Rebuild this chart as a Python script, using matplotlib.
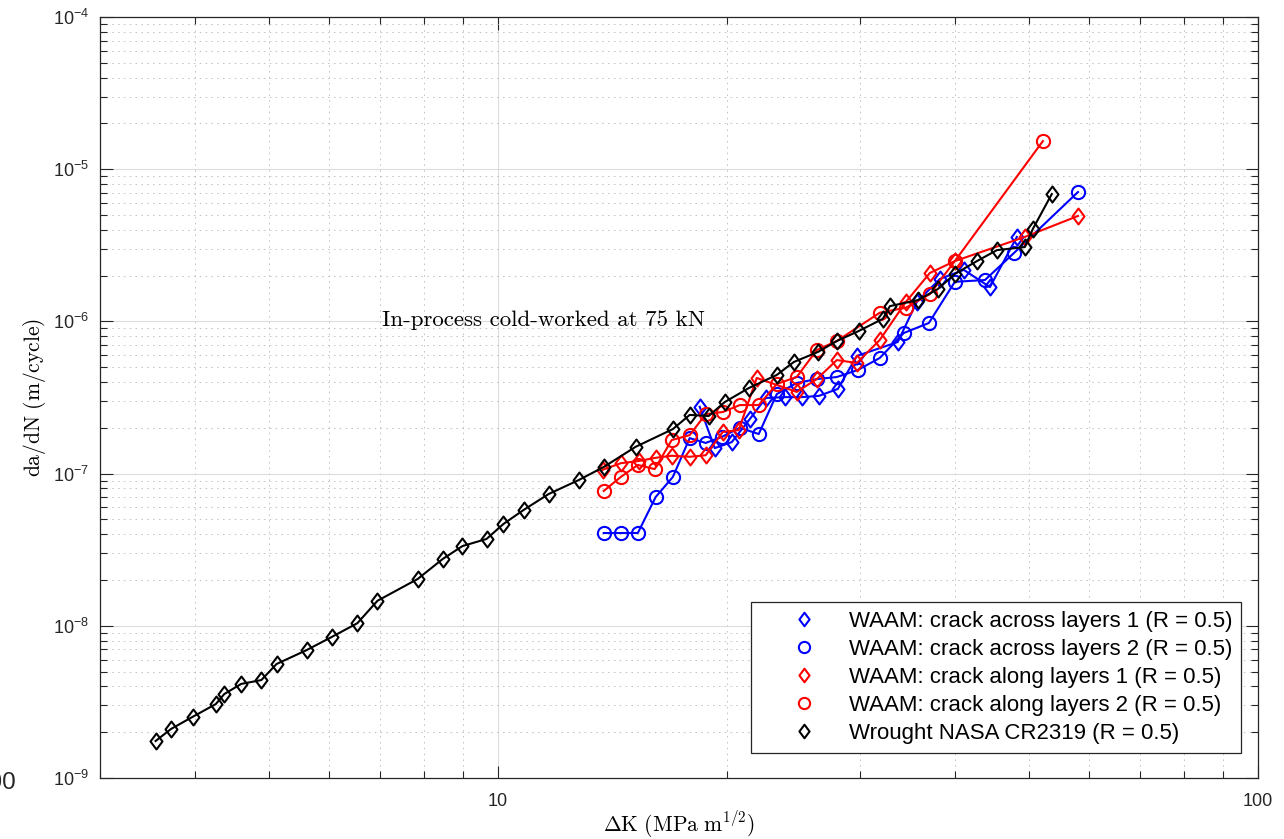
import matplotlib
matplotlib.use("Agg")
import matplotlib.pyplot as plt
from matplotlib.path import Path
from matplotlib.lines import Line2D
from matplotlib.ticker import FixedLocator, FixedFormatter, LogLocator, NullFormatter

# ---------------- data ----------------
# Wrought NASA CR2319 (R = 0.5)
wr_dk = [3.55, 3.72, 3.97, 4.26, 4.37, 4.60, 4.89, 5.12, 5.61, 6.05, 6.54, 6.95, 7.85,
         8.47, 8.99, 9.67, 10.18, 10.82, 11.67, 12.79, 13.79, 15.19, 17.00, 17.89, 18.95,
         19.89, 21.40, 23.29, 24.52, 26.37, 27.93, 29.85, 32.11, 32.80, 35.70, 37.92,
         39.93, 42.69, 45.36, 49.36, 50.57, 53.56]
wr_dadn = [1.75e-9, 2.10e-9, 2.52e-9, 3.06e-9, 3.56e-9, 4.15e-9, 4.40e-9, 5.61e-9, 6.93e-9,
           8.44e-9, 1.04e-8, 1.46e-8, 2.03e-8, 2.75e-8, 3.34e-8, 3.72e-8, 4.67e-8, 5.77e-8,
           7.34e-8, 9.08e-8, 1.105e-7, 1.50e-7, 1.96e-7, 2.43e-7, 2.39e-7, 2.95e-7, 3.65e-7,
           4.45e-7, 5.41e-7, 6.29e-7, 7.43e-7, 8.65e-7, 1.04e-6, 1.26e-6, 1.38e-6, 1.63e-6,
           2.05e-6, 2.49e-6, 2.94e-6, 3.08e-6, 4.05e-6, 6.87e-6]

# WAAM: crack across layers 1
ac1_dk = [18.44, 19.30, 20.32, 21.46, 22.53, 23.86, 25.12, 26.45, 28.02, 29.68, 33.59,
          35.58, 38.16, 41.03, 44.41, 48.18]
ac1_dadn = [2.75e-7, 1.47e-7, 1.61e-7, 2.28e-7, 3.14e-7, 3.18e-7, 3.18e-7, 3.24e-7, 3.60e-7,
            5.93e-7, 7.32e-7, 1.34e-6, 1.90e-6, 2.18e-6, 1.68e-6, 3.59e-6]

# WAAM: crack across layers 2
ac2_dk = [13.79, 14.52, 15.29, 16.14, 17.00, 17.89, 18.78, 19.71, 20.82, 22.05, 23.29,
          24.74, 26.29, 27.93, 29.77, 31.81, 34.21, 36.91, 39.93, 43.74, 47.74, 57.98]
ac2_dadn = [4.07e-8, 4.07e-8, 4.07e-8, 7.02e-8, 9.50e-8, 1.71e-7, 1.59e-7, 1.74e-7, 2.00e-7,
            1.82e-7, 3.33e-7, 3.94e-7, 4.18e-7, 4.31e-7, 4.80e-7, 5.75e-7, 8.39e-7, 9.76e-7,
            1.82e-6, 1.87e-6, 2.81e-6, 7.08e-6]

# WAAM: crack along layers 1
al1_dk = [13.75, 14.52, 15.33, 16.14, 16.94, 17.89, 18.78, 19.78, 20.75, 21.92, 24.74,
          26.29, 27.93, 29.68, 31.81, 34.42, 37.02, 39.93, 49.36, 57.98]
al1_dadn = [1.06e-7, 1.17e-7, 1.21e-7, 1.27e-7, 1.31e-7, 1.29e-7, 1.32e-7, 1.88e-7, 1.93e-7,
            4.25e-7, 3.44e-7, 4.18e-7, 5.57e-7, 5.33e-7, 7.55e-7, 1.34e-6, 2.08e-6, 2.49e-6,
            3.59e-6, 4.93e-6]

# WAAM: crack along layers 2
al2_dk = [13.79, 14.52, 15.29, 16.09, 16.94, 17.89, 18.78, 19.78, 20.82, 22.05, 23.29,
          24.74, 26.29, 27.93, 31.81, 34.42, 37.02, 39.93, 52.13]
al2_dadn = [7.69e-8, 9.50e-8, 1.14e-7, 1.07e-7, 1.66e-7, 1.79e-7, 2.46e-7, 2.54e-7, 2.82e-7,
            2.82e-7, 3.88e-7, 4.31e-7, 6.49e-7, 7.43e-7, 1.14e-6, 1.23e-6, 1.51e-6, 2.49e-6,
            1.53e-5]

series_labels = ["WAAM: crack across layers 1 (R = 0.5)",
                 "WAAM: crack across layers 2 (R = 0.5)",
                 "WAAM: crack along layers 1 (R = 0.5)",
                 "WAAM: crack along layers 2 (R = 0.5)",
                 "Wrought NASA CR2319 (R = 0.5)"]

x_ticks = [10, 100]
x_ticklabels = ["10", "100"]
y_ticks = [1e-9, 1e-8, 1e-7, 1e-6, 1e-5, 1e-4]
y_ticklabels = [r"$\mathdefault{10^{-9}}$", r"$\mathdefault{10^{-8}}$", r"$\mathdefault{10^{-7}}$",
                r"$\mathdefault{10^{-6}}$", r"$\mathdefault{10^{-5}}$", r"$\mathdefault{10^{-4}}$"]

annotation = "In-process cold-worked at 75 kN"
xlabel = r"$\Delta\mathrm{K}\ (\mathrm{MPa\ m}^{1/2})$"
ylabel = r"$\mathrm{da/dN\ (m/cycle)}$"

# ---------------- style ----------------
plt.rcParams["font.family"] = ["Liberation Sans", "DejaVu Sans"]
plt.rcParams["mathtext.fontset"] = "cm"

diamond = Path([(0, 1), (0.75, 0), (0, -1), (-0.75, 0), (0, 1)],
               [Path.MOVETO, Path.LINETO, Path.LINETO, Path.LINETO, Path.CLOSEPOLY])

fig = plt.figure(figsize=(12.84, 8.39), dpi=100)
ax = fig.add_axes([100 / 1284, 1 - 778 / 839, 1158 / 1284, 761 / 839])

lw = 1.5
mew = 1.5
series = [
    (ac1_dk, ac1_dadn, "blue", diamond, 11.5),
    (ac2_dk, ac2_dadn, "blue", "o", 9.5),
    (al1_dk, al1_dadn, "red", diamond, 11.5),
    (al2_dk, al2_dadn, "red", "o", 9.5),
    (wr_dk, wr_dadn, "black", diamond, 11.5),
]
handles = []
for (xs, ys, c, m, ms), lab in zip(series, series_labels):
    ax.plot(xs, ys, color=c, lw=lw, marker=m, ms=ms, mfc="none", mec=c, mew=mew, zorder=3)
    handles.append(Line2D([], [], color=c, ls="none", marker=m, ms=ms * 0.85,
                          mfc="none", mec=c, mew=mew))

ax.set_xscale("log")
ax.set_yscale("log")
ax.set_xlim(3, 100)
ax.set_ylim(1e-9, 1e-4)

ax.xaxis.set_major_locator(FixedLocator(x_ticks))
ax.xaxis.set_major_formatter(FixedFormatter(x_ticklabels))
ax.xaxis.set_minor_locator(LogLocator(base=10, subs=range(2, 10), numticks=50))
ax.xaxis.set_minor_formatter(NullFormatter())
ax.yaxis.set_major_locator(FixedLocator(y_ticks))
ax.yaxis.set_major_formatter(FixedFormatter(y_ticklabels))
ax.yaxis.set_minor_locator(LogLocator(base=10, subs=range(2, 10), numticks=50))
ax.yaxis.set_minor_formatter(NullFormatter())

ax.tick_params(which="both", direction="in", top=True, right=True, color="#262626",
               width=0.8, labelsize=13, labelcolor="#262626")
ax.tick_params(which="major", length=9)
ax.tick_params(which="minor", length=5)
ax.tick_params(axis="x", which="major", pad=11)
ax.tick_params(axis="y", which="major", pad=8)

for s in ax.spines.values():
    s.set_color("#262626")
    s.set_linewidth(0.9)

ax.grid(which="major", color="#dcdcdc", lw=0.8, ls="-", zorder=0)
ax.grid(which="minor", color="#bdbdbd", lw=0.6, ls=(0, (2, 5)), zorder=0)
ax.set_axisbelow(True)

ax.set_xlabel(xlabel, fontsize=15.5, math_fontfamily="cm")
ax.set_ylabel(ylabel, fontsize=15.5, math_fontfamily="cm")
ax.xaxis.set_label_coords(0.5, -0.042)
ax.yaxis.set_label_coords(-0.045, 0.5)

ax.text(7.05, 1.02e-6, annotation, fontsize=16.5, family="cmr10", va="center", ha="left")

leg = ax.legend(handles, series_labels, loc="lower right", bbox_to_anchor=(0.9853, 0.0329),
                borderaxespad=0, fontsize=16, handlelength=4.0, handletextpad=0.0,
                borderpad=0.4, labelspacing=0.32, fancybox=False, framealpha=1,
                edgecolor="#262626")
leg.get_frame().set_linewidth(0.9)

# clipped stray label at the lower-left edge of the reference image
fig.text(0.0125, 1 - 783 / 839, "100", fontsize=17.5, ha="right", va="center", color="#262626")

fig.savefig("out.png", dpi=100)
